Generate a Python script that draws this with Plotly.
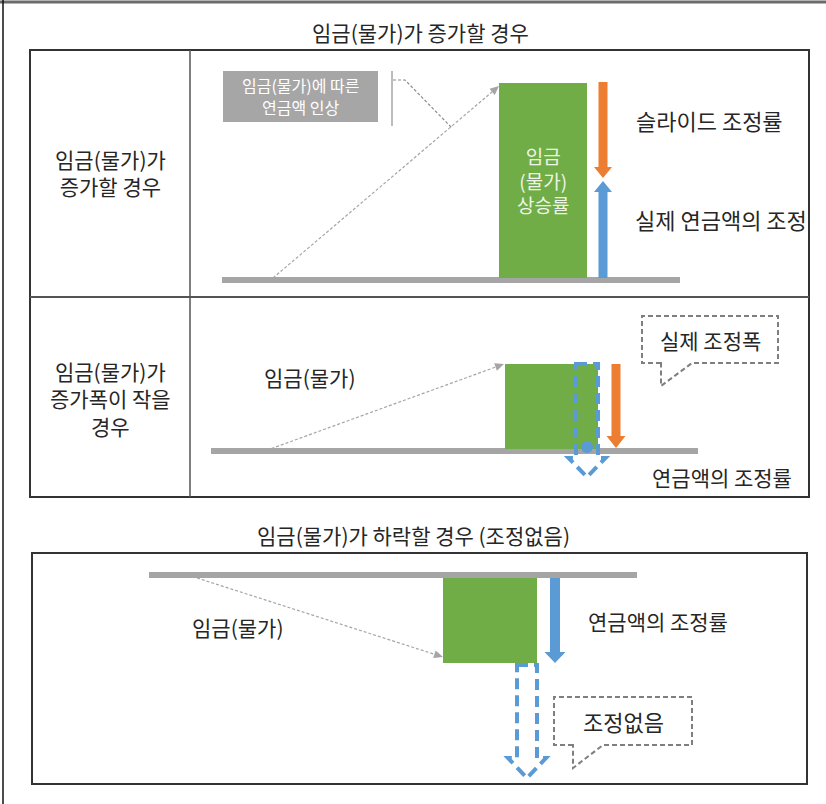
import plotly.graph_objects as go

# ---------------- content (texts) ----------------
section_titles = ["임금(물가)가 증가할 경우", "임금(물가)가 하락할 경우 (조정없음)"]
row1_label = ["임금(물가)가", "증가할 경우"]
row2_label = ["임금(물가)가", "증가폭이 작을", "경우"]
box1_text = ["임금(물가)에 따른", "연금액 인상"]
bar1_text = ["임금", "(물가)", "상승률"]
row1_right = ["슬라이드 조정률", "실제 연금액의 조정"]
row2_texts = ["임금(물가)", "실제 조정폭", "연금액의 조정률"]
bottom_texts = ["임금(물가)", "연금액의 조정률", "조정없음"]

# ---------------- geometry (pixel layout of the diagram) ----------------
baselines = [(222, 680, 280), (211, 698, 451), (149, 637, 575)]          # x0, x1, y
green_bars = [(499, 587, 83, 278), (505, 598, 364, 449), (443, 537, 578, 663)]  # x0,x1,y0,y1
thin_arrows = [((273, 278), (499, 86)), ((262, 452), (504, 364)), ((197, 578), (443, 657))]

GREEN = "#70AD47"
ORANGE = "#ED7D31"
BLUE = "#5B9BD5"
GRAY = "#A5A5A5"
DGRAY = "#7F7F7F"
TXT = "#262626"
FONT = "Noto Sans CJK KR"

fig = go.Figure()
shapes = []
annos = []


def line(x0, y0, x1, y1, color, width, dash=None):
    d = dict(type="line", x0=x0, y0=y0, x1=x1, y1=y1, xref="x", yref="y",
             line=dict(color=color, width=width))
    if dash:
        d["line"]["dash"] = dash
    shapes.append(d)


def rect(x0, y0, x1, y1, fill=None, color=None, width=0, dash=None):
    d = dict(type="rect", x0=x0, y0=y0, x1=x1, y1=y1, xref="x", yref="y",
             line=dict(width=width, color=color or "rgba(0,0,0,0)"),
             fillcolor=fill or "rgba(0,0,0,0)", layer="above")
    if dash:
        d["line"]["dash"] = dash
    shapes.append(d)


def path(p, fill=None, color=None, width=0, dash=None):
    d = dict(type="path", path=p, xref="x", yref="y",
             line=dict(width=width, color=color or "rgba(0,0,0,0)"),
             fillcolor=fill or "rgba(0,0,0,0)", layer="above")
    if dash:
        d["line"]["dash"] = dash
    shapes.append(d)


def varrow_path(cx, y0, ytip, shaft_w, head_w, head_len):
    s = 1 if ytip > y0 else -1
    hy = ytip - s * head_len
    return (f"M {cx - shaft_w/2} {y0} L {cx + shaft_w/2} {y0} L {cx + shaft_w/2} {hy} "
            f"L {cx + head_w/2} {hy} L {cx} {ytip} L {cx - head_w/2} {hy} "
            f"L {cx - shaft_w/2} {hy} Z")


def text(x, y, s, size, color=TXT, xanchor="center"):
    if isinstance(s, list):
        s = "<br>".join(s)
    annos.append(dict(x=x, y=y, xref="x", yref="y", text=s, showarrow=False,
                      xanchor=xanchor, yanchor="middle", align="center",
                      font=dict(family=FONT, size=size, color=color)))


def thin_arrow(p0, p1):
    (x0, y0), (x1, y1) = p0, p1
    dx, dy = x1 - x0, y1 - y0
    L = (dx * dx + dy * dy) ** 0.5
    ux, uy = dx / L, dy / L
    hl, hw = 9, 4
    bx, by = x1 - ux * hl, y1 - uy * hl
    line(x0, y0, bx, by, GRAY, 1.2, "3px,2px")
    path(f"M {x1} {y1} L {bx - uy*hw} {by + ux*hw} L {bx + uy*hw} {by - ux*hw} Z", fill=GRAY)


# ---------------- frames ----------------
line(0, 2, 826, 2, "#6b6b6b", 3)
line(3, 0, 3, 804, "#111111", 1.5)
rect(30, 50, 809, 497, color="#333333", width=2)
line(30, 297, 809, 297, "#555555", 2)
line(190, 50, 190, 497, "#555555", 1.5)
rect(32, 553, 807, 784, color="#333333", width=2)

# ---------------- titles & row labels ----------------
text(420, 32, section_titles[0], 21)
text(413, 535, section_titles[1], 21)
text(110, 172, row1_label, 21)
text(110, 398, row2_label, 21)

# ---------------- baselines & bars ----------------
for x0, x1, y in baselines:
    line(x0, y, x1, y, GRAY, 6)
for x0, x1, y0, y1 in green_bars:
    rect(x0, y0, x1, y1, fill=GREEN)

for p0, p1 in thin_arrows:
    thin_arrow(p0, p1)

# ---------------- row 1 ----------------
rect(223, 71, 378, 122, fill="#A6A6A6")
text(300, 85, box1_text[0], 16, "#FFFFFF")
text(300, 107, box1_text[1], 16, "#FFFFFF")
line(392, 71, 392, 126, "#A6A6A6", 1.5)
path("M 393 80 L 405 80 L 452 128", color="#8C8C8C", width=1.2, dash="3px,2px")
text(543, 180, bar1_text, 19, "#EEF4E8")
path(varrow_path(603, 82, 178, 9, 18, 11), fill=ORANGE)
path(varrow_path(603, 278, 181, 9, 18, 11), fill=BLUE)
text(634, 120, row1_right[0], 22, xanchor="left")
text(633, 219, row1_right[1], 22, xanchor="left")

# ---------------- row 2 ----------------
text(262, 377, row2_texts[0], 21, xanchor="left")
path(varrow_path(587, 364, 477, 22, 37, 19), color=BLUE, width=4, dash="11px,6px")
shapes.append(dict(type="circle", x0=581, y0=441, x1=593, y1=453, xref="x", yref="y",
                   fillcolor=BLUE, line=dict(width=0), layer="above"))
path(varrow_path(616, 364, 448, 9, 19, 12), fill=ORANGE)
path("M 661 363 L 642 363 L 642 316 L 778 316 L 778 363 L 692 363 L 661 386 Z",
     color=DGRAY, width=2, dash="5px,3px")
rect(643, 317, 777, 362, fill="#FFFFFF")
text(710, 340, row2_texts[1], 21)
text(650, 477, row2_texts[2], 21, xanchor="left")

# ---------------- bottom ----------------
text(190, 627, bottom_texts[0], 21, xanchor="left")
path(varrow_path(555, 578, 663, 10, 21, 11), fill=BLUE)
path(varrow_path(527, 665, 778, 20, 38, 20), color=BLUE, width=4, dash="11px,6px")
path("M 573 745 L 554 745 L 554 697 L 692 697 L 692 745 L 603 745 L 573 768 Z",
     color=DGRAY, width=2, dash="5px,3px")
rect(555, 698, 691, 744, fill="#FFFFFF")
text(586, 621, bottom_texts[1], 21, xanchor="left")
text(623, 721, bottom_texts[2], 22)

fig.update_layout(
    width=826, height=804, autosize=False,
    margin=dict(l=0, r=0, t=0, b=0, pad=0),
    paper_bgcolor="#FFFFFF", plot_bgcolor="#FFFFFF",
    xaxis=dict(range=[0, 826], visible=False, fixedrange=True),
    yaxis=dict(range=[804, 0], visible=False, fixedrange=True),
    shapes=shapes, annotations=annos, showlegend=False,
)
fig.write_html(
    "out.html",
    config={"displayModeBar": False},
    post_script="document.body.style.margin='0';document.body.style.overflow='hidden';",
)
